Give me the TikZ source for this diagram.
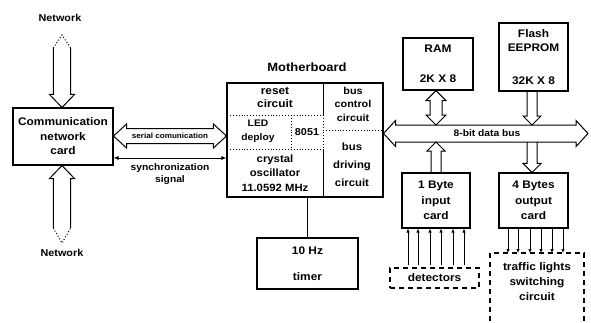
\documentclass[tikz,border=0pt]{standalone}
\usepackage{fontspec}
\setmainfont{Liberation Sans}[FakeStretch=1.08]
\usetikzlibrary{calc,arrows.meta}

% horizontal hollow double arrow: left tip, right tip, half shaft, half head, head length
\newcommand{\HDArrow}[5]{%
 \draw[blk] (#1) -- ($(#1)+(#5,-#4)$) -- ($(#1)+(#5,-#3)$) -- ($(#2)+(-#5,-#3)$) -- ($(#2)+(-#5,-#4)$) -- (#2)
  -- ($(#2)+(-#5,#4)$) -- ($(#2)+(-#5,#3)$) -- ($(#1)+(#5,#3)$) -- ($(#1)+(#5,#4)$) -- cycle;}
% vertical hollow double arrow: top tip, bottom tip
\newcommand{\VDArrow}[5]{%
 \draw[blk] (#1) -- ($(#1)+(#4,#5)$) -- ($(#1)+(#3,#5)$) -- ($(#2)+(#3,-#5)$) -- ($(#2)+(#4,-#5)$) -- (#2)
  -- ($(#2)+(-#4,-#5)$) -- ($(#2)+(-#3,-#5)$) -- ($(#1)+(-#3,#5)$) -- ($(#1)+(-#4,#5)$) -- cycle;}
% hollow arrow pointing down: tail (top), tip (bottom)
\newcommand{\DArrow}[5]{%
 \draw[blk] ($(#1)+(-#3,0)$) -- ($(#2)+(-#3,-#5)$) -- ($(#2)+(-#4,-#5)$) -- (#2) -- ($(#2)+(#4,-#5)$) -- ($(#2)+(#3,-#5)$) -- ($(#1)+(#3,0)$);}
% hollow arrow pointing up: tail (bottom), tip (top)
\newcommand{\UArrow}[5]{%
 \draw[blk] ($(#1)+(-#3,0)$) -- ($(#2)+(-#3,#5)$) -- ($(#2)+(-#4,#5)$) -- (#2) -- ($(#2)+(#4,#5)$) -- ($(#2)+(#3,#5)$) -- ($(#1)+(#3,0)$);}

\begin{document}
\begin{tikzpicture}[x=1pt,y=-1pt,
  box/.style={draw, line width=1.1pt, inner sep=0pt, align=center, font=\bfseries\fontsize{11}{14}\selectfont},
  lbl/.style={inner sep=0pt, align=center, font=\bfseries\fontsize{11}{14}\selectfont},
  blk/.style={line width=1pt, line join=miter},
  dbox/.style={draw, line width=1.2pt, dash pattern=on 5pt off 4pt},
  inner/.style={line width=0.9pt, dotted},
  small/.style={line width=0.9pt, -{Latex[length=4pt,width=3.5pt]}}
]
\useasboundingbox (0,0) rectangle (591,322);

% ---------- boxes ----------
\node[box, minimum width=100pt, minimum height=57pt, font=\bfseries\fontsize{11}{14.5}\selectfont] (comm) at (63,136.5) {Communication\\network\\card};
\node[box, minimum width=156pt, minimum height=114pt] (mb) at (305,140) {};
\node[lbl, font=\bfseries\fontsize{12}{14}\selectfont] (mbl) at (307,67) {Motherboard};
\node[box, minimum width=101pt, minimum height=51pt, font=\bfseries\fontsize{11}{26}\selectfont] (timer) at (307.5,263.5) {10 Hz\\timer};
\node[box, minimum width=70pt, minimum height=52pt, font=\bfseries\fontsize{11}{30}\selectfont] (ram) at (438,64) {RAM\\2K X 8};
\node[box, minimum width=69pt, minimum height=68pt] (flash) at (533.5,57) {Flash\\EEPROM\\[19pt]32K X 8};
\node[box, minimum width=68pt, minimum height=55pt, font=\bfseries\fontsize{11}{15.5}\selectfont] (inp) at (436,200.5) {1 Byte\\input\\card};
\node[box, minimum width=69pt, minimum height=55pt, font=\bfseries\fontsize{11}{15.5}\selectfont] (outp) at (533.5,200.5) {4 Bytes\\output\\card};
\node[dbox, minimum width=89pt, minimum height=20pt, inner sep=0pt, font=\bfseries\fontsize{11}{14}\selectfont] (det) at (434.5,278) {detectors};
\node[lbl, font=\bfseries\fontsize{11}{15}\selectfont] (traffic) at (537,282) {traffic lights\\switching\\circuit};
\draw[dbox] (490,330) -- (490,253) -- (584,253) -- (584,330);

% ---------- motherboard interior ----------
\draw[line width=1pt] (323,83) -- (323,115);
\draw[inner] (323,115) -- (323,149);
\draw[line width=1pt] (323,149) -- (323,197);
\draw[inner] (227,115) -- (323,115);
\draw[inner] (291,115) -- (291,149);
\draw[inner] (227,149) -- (323,149);
\draw[inner] (323,130) -- (383,130);
\node[lbl, font=\bfseries\fontsize{11}{13}\selectfont] (reset) at (275,97) {reset\\circuit};
\node[lbl, font=\bfseries\fontsize{9.5}{14}\selectfont] (led) at (258,131) {LED\\deploy};
\node[lbl, font=\bfseries\fontsize{10}{14}\selectfont] (cpu) at (307,132) {8051};
\node[lbl, font=\bfseries\fontsize{10.5}{14.5}\selectfont] (xtal) at (275,173) {crystal\\oscillator\\11.0592 MHz};
\node[lbl, font=\bfseries\fontsize{10}{13.5}\selectfont] (bctl) at (353,104) {bus\\control\\circuit};
\node[lbl, font=\bfseries\fontsize{10.5}{18}\selectfont] (bdrv) at (352,165) {bus\\driving\\circuit};

% ---------- network arrows ----------
\node[lbl, font=\bfseries\fontsize{10}{12}\selectfont] (nettop) at (60,18) {Network};
\node[lbl, font=\bfseries\fontsize{10}{12}\selectfont] (netbot) at (62,253) {Network};
\coordinate (ntTail) at (62,48);
\coordinate (ntTip) at (62,35);
\coordinate (ntHead) at (comm.north -| ntTail);
\DArrow{ntTail}{ntHead}{8.7}{12.5}{13}
\draw[line width=1pt, dotted] ($(ntTail)+(-8.7,0)$) -- (ntTip) -- ($(ntTail)+(8.7,0)$);
\coordinate (nbTail) at (62,228);
\coordinate (nbTip) at (62,243);
\coordinate (nbHead) at (comm.south -| nbTail);
\UArrow{nbTail}{nbHead}{8.7}{12.5}{13}
\draw[line width=1pt, dotted] ($(nbTail)+(-8.7,0)$) -- (nbTip) -- ($(nbTail)+(8.7,0)$);

% ---------- serial & sync ----------
\coordinate (serL) at (comm.east |- 0,136);
\coordinate (serR) at (mb.west |- 0,136);
\HDArrow{serL}{serR}{7.5}{12}{13}
\node[lbl, font=\bfseries\fontsize{7.5}{9}\selectfont] (serlbl) at ($(serL)!0.5!(serR)$) {serial comunication};
\coordinate (syL) at (comm.east |- 0,158);
\coordinate (syR) at (mb.west |- 0,158);
\draw[line width=0.9pt, {Latex[length=5pt,width=4pt]}-{Latex[length=5pt,width=4pt]}] (syL) -- (syR);
\node[lbl, font=\bfseries\fontsize{9.5}{11.5}\selectfont] (sylbl) at (170,174) {synchronization\\signal};

% ---------- timer link ----------
\draw[line width=1.1pt] (timer.north) -- (timer.north |- mb.south);

% ---------- data bus ----------
\coordinate (busL) at (mb.east |- 0,133.5);
\coordinate (busR) at (588,133.5);
\HDArrow{busL}{busR}{8.5}{13}{12}
\node[lbl, font=\bfseries\fontsize{9.5}{11}\selectfont] (buslbl) at (487,133.5) {8-bit data bus};
\coordinate (busT) at (0,125);
\coordinate (busB) at (0,142);

% RAM <-> bus
\coordinate (ramA) at (ram.south -| 436,0);
\coordinate (ramB) at (436,125);
\VDArrow{ramA}{ramB}{6}{10}{10}
% Flash -> bus
\coordinate (flA) at (flash.south -| 532,0);
\coordinate (flB) at (532,125);
\DArrow{flA}{flB}{5}{9}{9}
% input card -> bus
\coordinate (inA) at (inp.north);
\coordinate (inB) at (inp.north |- busB);
\UArrow{inA}{inB}{5}{9}{9}
% bus -> output card
\coordinate (outB) at (outp.north -| 532,0);
\coordinate (outA) at (outB |- busB);
\DArrow{outA}{outB}{5}{9}{9}

% ---------- detector / output lines ----------
\foreach \x in {408,418,430,441,453,464}
  \draw[small] (\x,265) -- (\x,0 |- inp.south);
\foreach \x in {508,518,530,541,552,563}
  \draw[small] (\x,0 |- outp.south) -- (\x,253);
\end{tikzpicture}
\end{document}
